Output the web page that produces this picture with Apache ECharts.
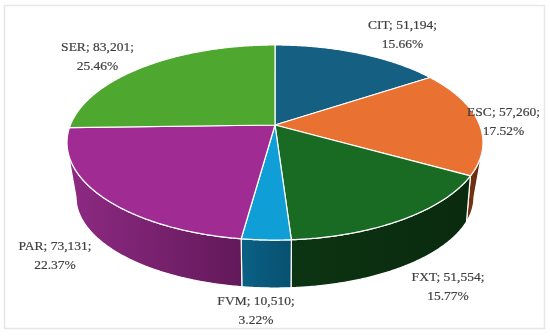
<!DOCTYPE html>
<html>
<head>
<meta charset="utf-8">
<style>html,body{margin:0;padding:0;background:#fff}#c{width:550px;height:336px}</style>
<script src="https://cdn.jsdelivr.net/npm/echarts@6/dist/echarts.min.js"></script>
</head>
<body>
<div id="c"></div>
<script>
// Data
var categories = ['CIT', 'ESC', 'FXT', 'FVM', 'PAR', 'SER'];
var values = [51194, 57260, 51554, 10510, 73131, 83201];
var percents = ['15.66', '17.52', '15.77', '3.22', '22.37', '25.46'];

// Styles and layout
var topColors = ['#156082', '#E97132', '#196B24', '#0F9ED5', '#A02B93', '#4EA72E'];
var sideColorsA = ['#0c3a4e', '#7a3512', '#0c3412', '#0a6185', '#8e2a83', '#2f661b'];
var sideColorsB = ['#0a2a3a', '#5c2a0e', '#0a2a0e', '#08506f', '#62195a', '#234d14'];
var labelAnchors = [[402.5, 34.5], [503.5, 122], [448, 287], [256, 310.5], [55, 255.5], [97.5, 56.5]];

var total = values.reduce(function (a, b) { return a + b; }, 0);
var PX = 275, PY = 125;              // apex of the top face
var EY = 142;                        // centre line of the top face outline
var C = 0.1795, A = 204.6, B = 94.4; // perspective projection
var BEY = 197, BRX = 199, BRY = 91, BSCALE = 0.98; // outline of the bottom face

function topPoint(deg) {
  var t = deg * Math.PI / 180, u = Math.sin(t), v = -Math.cos(t), d = 1 - C * v;
  return [PX + A * u / d, PY + B * v / d];
}
function bottomPoint(deg) {
  var p = topPoint(deg);
  var dx = (p[0] - PX) * BSCALE;
  dx = Math.max(-BRX, Math.min(BRX, dx));
  var y = BEY;
  if (p[1] > EY) y = BEY + BRY * Math.sqrt(Math.max(0, 1 - dx * dx / (BRX * BRX)));
  return [PX + dx, y];
}
// Angles where the side wall leaves the outline of the top face
function silhouette(sign, from, to) {
  var best = from, bestSlope = -Infinity;
  for (var a = from; a <= to; a += 0.25) {
    var p = topPoint(a);
    var dy = BEY - p[1];
    if (dy <= 0) continue;
    var slope = sign * (p[0] - (PX + sign * BRX)) / dy;
    if (slope > bestSlope) { bestSlope = slope; best = a; }
  }
  return best;
}
var ANGLE_R = silhouette(1, 60, 130);
var ANGLE_L = silhouette(-1, 230, 300);

function sweep(fn, a0, a1) {
  var n = Math.max(2, Math.ceil((a1 - a0) * 2)), pts = [];
  for (var i = 0; i <= n; i++) pts.push(fn(a0 + (a1 - a0) * i / n));
  return pts;
}
function angleRange(i) {
  var s = 0;
  for (var k = 0; k < i; k++) s += values[k];
  return [s / total * 360, (s + values[i]) / total * 360];
}
var tableData = categories.map(function (c, i) { return [i, values[i]]; });

function renderSide(params, api) {
  var i = api.value(0), r = angleRange(i);
  var a0 = Math.max(r[0], ANGLE_R), a1 = Math.min(r[1], ANGLE_L);
  if (a0 >= a1) return null;
  var top = sweep(topPoint, a0, a1);
  var bot = sweep(bottomPoint, a0, a1).reverse();
  var pts = top.concat(bot);
  var xs = pts.map(function (p) { return p[0]; });
  return {
    type: 'polygon',
    shape: { points: pts },
    style: {
      fill: {
        type: 'linear', global: true,
        x: Math.min.apply(null, xs), y: 0, x2: Math.max.apply(null, xs), y2: 0,
        colorStops: [{ offset: 0, color: sideColorsA[i] }, { offset: 1, color: sideColorsB[i] }]
      },
      stroke: '#fff', lineWidth: 1.2, lineJoin: 'round'
    }
  };
}
function renderTop(params, api) {
  var i = api.value(0), r = angleRange(i);
  var pts = [[PX, PY]].concat(sweep(topPoint, r[0], r[1]));
  return {
    type: 'polygon',
    shape: { points: pts },
    style: { fill: topColors[i], stroke: '#fff', lineWidth: 1.2, lineJoin: 'round' }
  };
}
function renderLabel(params, api) {
  var i = api.value(0), a = labelAnchors[i];
  var txt = categories[i] + '; ' + values[i].toLocaleString('en-US') + ';\n' + percents[i] + '%';
  return {
    type: 'text',
    x: a[0], y: a[1],
    style: {
      text: txt, fill: '#404040', stroke: '#404040', lineWidth: 0.2,
      font: '13.5px "Liberation Serif"',
      lineHeight: 19, align: 'center', verticalAlign: 'middle'
    }
  };
}

var chart = echarts.init(document.getElementById('c'), null, { renderer: 'canvas' });
chart.setOption({
  animation: false,
  backgroundColor: '#fff',
  graphic: [{
    type: 'rect', silent: true,
    shape: { x: 4.5, y: 5.5, width: 540, height: 323 },
    style: { fill: 'none', stroke: '#e6e6e6', lineWidth: 1.5 }
  }],
  series: [
    { type: 'custom', coordinateSystem: 'none', data: tableData, renderItem: renderSide, z: 1, silent: true },
    { type: 'custom', coordinateSystem: 'none', data: tableData, renderItem: renderTop, z: 2, silent: true },
    { type: 'custom', coordinateSystem: 'none', data: tableData, renderItem: renderLabel, z: 3, silent: true }
  ]
});
</script>
</body>
</html>
